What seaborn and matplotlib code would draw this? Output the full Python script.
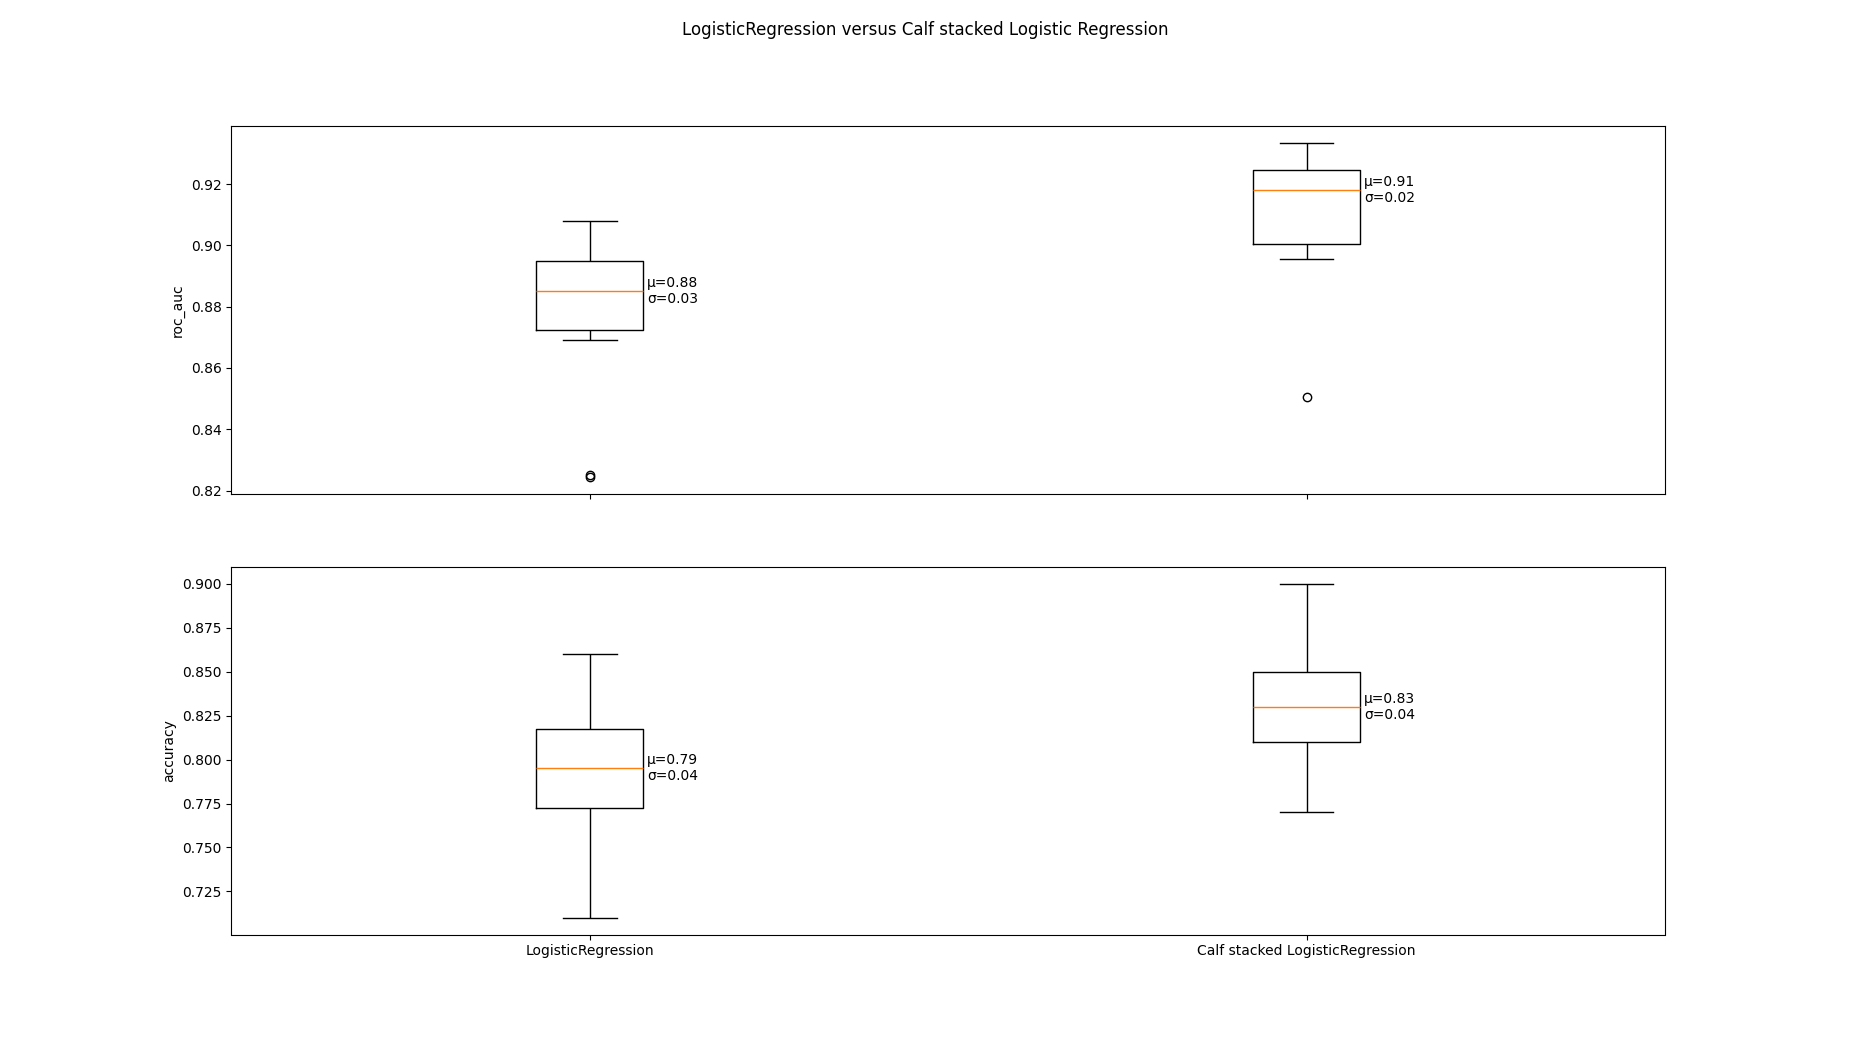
import numpy as np
import pandas as pd
import matplotlib
matplotlib.use("Agg")
import matplotlib.pyplot as plt
import seaborn as sns

models = ["LogisticRegression", "Calf stacked LogisticRegression"]
metrics = ["roc_auc", "accuracy"]
roc_lr = [0.8245, 0.825, 0.869, 0.883, 0.884, 0.886, 0.893, 0.8957, 0.901, 0.908]
roc_calf = [0.8505, 0.8955, 0.899, 0.905, 0.916, 0.920, 0.923, 0.925, 0.930, 0.9335]
acc_lr = [0.71, 0.76, 0.77, 0.78, 0.79, 0.80, 0.81, 0.82, 0.84, 0.86]
acc_calf = [0.77, 0.80, 0.81, 0.81, 0.82, 0.84, 0.85, 0.85, 0.87, 0.90]
scores = {"roc_auc": [roc_lr, roc_calf], "accuracy": [acc_lr, acc_calf]}

fig, axes = plt.subplots(2, 1, figsize=(18.5, 10.5), dpi=100, sharex=True)
for ax, metric in zip(axes, metrics):
    rows = []
    for m, vals in zip(models, scores[metric]):
        rows += [{"model": m, "score": v} for v in vals]
    df = pd.DataFrame(rows)
    sns.boxplot(data=df, x="model", y="score", order=models, ax=ax,
                fill=False, color="black", linecolor="black", width=0.15,
                linewidth=1, whis=1.5,
                medianprops=dict(color="#ff7f0e", linewidth=1),
                flierprops=dict(marker="o", markerfacecolor="none",
                                markeredgecolor="black", markersize=6))
    for i, vals in enumerate(scores[metric]):
        v = np.array(vals)
        ax.text(i + 0.08, np.median(v), f"μ={v.mean():.2f}\nσ={v.std():.2f}",
                va="center", ha="left", fontsize=10)
    ax.set_ylabel(metric)
    ax.set_xlabel("")
    ax.set_xlim(-0.5, 1.5)
    ax.margins(y=0.05)
    ax.autoscale(axis="y")
fig.suptitle("LogisticRegression versus Calf stacked Logistic Regression")
fig.savefig("out.png")
